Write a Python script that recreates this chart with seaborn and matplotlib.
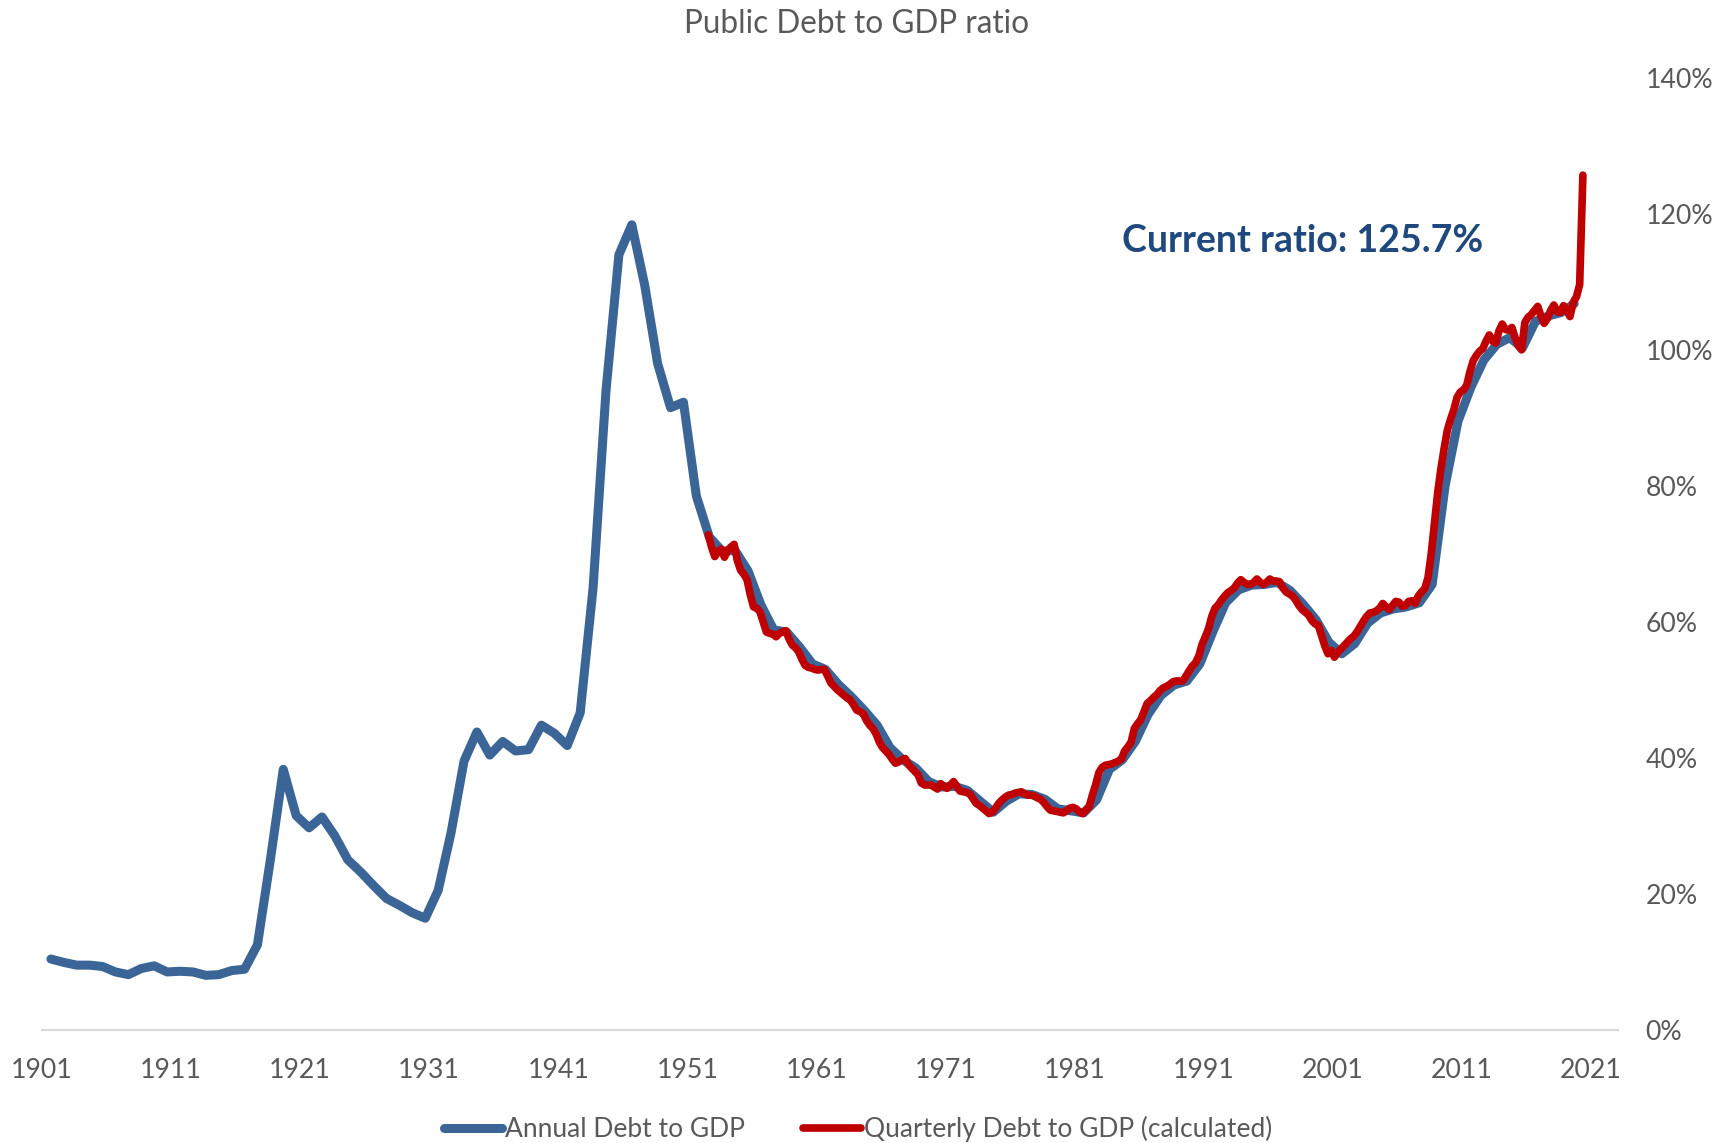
import matplotlib
matplotlib.use('Agg')
import matplotlib.pyplot as plt
from matplotlib.ticker import FuncFormatter
import seaborn as sns
import numpy as np
import pandas as pd

# annual public debt to GDP (%), 1901-2019
annual_years = list(range(1901, 2020))
annual_ratio = [
    10.4, 9.9, 9.5, 9.5, 9.3, 8.5, 8.1, 9.0, 9.4, 8.5,
    8.6, 8.5, 8.0, 8.1, 8.7, 8.9, 12.5, 25.0, 38.3, 31.5,
    29.7, 31.3, 28.5, 25.0, 23.2, 21.2, 19.3, 18.3, 17.2, 16.4,
    20.5, 29.0, 39.5, 43.8, 40.4, 42.4, 41.0, 41.2, 44.8, 43.6,
    41.8, 46.6, 65.0, 94.0, 114.0, 118.4, 109.5, 98.0, 91.5, 92.3,
    78.5, 72.5, 70.4, 70.5, 67.5, 62.5, 58.8, 58.5, 56.3, 53.8,
    53.0, 50.8, 49.0, 47.0, 44.8, 41.5, 39.7, 38.5, 36.5, 35.7,
    35.8, 35.2, 33.6, 32.0, 33.6, 34.7, 34.6, 33.9, 32.5, 32.2,
    31.9, 33.8, 38.3, 39.7, 42.4, 46.4, 49.2, 50.7, 51.3, 53.8,
    58.5, 62.8, 64.7, 65.4, 65.5, 65.8, 64.6, 62.6, 60.3, 57.0,
    55.3, 56.8, 59.8, 61.3, 61.9, 62.2, 62.8, 65.5, 80.0, 89.5,
    94.5, 98.5, 100.8, 101.8, 100.3, 104.2, 105.0, 105.5, 106.8,
]

# quarterly debt to GDP (%), 1952Q3-2020Q2
quarter_first = '1952Q3'
quarter_last = '2020Q2'
quarterly_ratio = [
    72.8, 71.0,
    69.6, 70.3, 70.7, 69.5,   # 1953
    70.5, 71.0, 71.4, 69.0,
    67.6, 67.0, 66.2, 64.0,
    62.2, 62.0, 61.5, 60.0,
    58.5, 58.3, 58.2, 57.8,
    58.3, 58.5, 58.7, 57.5,
    56.6, 56.2, 55.6, 54.5,
    53.6, 53.3, 53.2, 53.0,   # 1960
    52.9, 53.0, 53.0, 52.0,
    51.0, 50.5, 50.0, 49.6,
    49.2, 48.8, 48.5, 47.8,
    47.0, 46.8, 46.5, 45.5,
    44.8, 44.3, 43.5, 42.3,
    41.5, 41.0, 40.5, 39.8,
    39.2, 39.4, 39.7, 39.9,
    39.0, 38.5, 38.0, 37.5,
    36.3, 36.0, 36.0, 36.0,
    35.7, 35.4, 36.2, 35.8,   # 1970
    35.5, 36.0, 36.5, 35.8,
    35.1, 35.0, 34.9, 34.7,
    34.0, 33.3, 33.0, 32.6,
    32.2, 31.8, 32.0, 32.6,
    33.3, 33.8, 34.2, 34.5,
    34.6, 34.8, 34.9, 35.0,
    34.7, 34.5, 34.5, 34.4,
    34.1, 33.9, 33.4, 32.8,
    32.3, 32.2, 32.1, 32.0,
    31.9, 32.2, 32.6, 32.7,   # 1980
    32.5, 32.0, 31.8, 32.3,
    32.8, 34.5, 36.0, 37.8,
    38.6, 38.9, 39.0, 39.1,
    39.3, 39.5, 39.8, 41.0,
    41.6, 42.3, 44.3, 45.0,
    45.6, 46.8, 48.0, 48.4,
    48.9, 49.3, 49.9, 50.3,
    50.5, 50.8, 51.2, 51.3,
    51.3, 51.3, 52.0, 52.8,
    53.5, 54.0, 55.0, 56.7,   # 1990
    57.8, 59.0, 60.8, 62.0,
    62.5, 63.2, 63.8, 64.3,
    64.6, 65.0, 65.7, 66.2,
    65.8, 65.5, 65.5, 65.8,
    66.3, 65.8, 65.5, 65.8,
    66.3, 66.0, 66.0, 65.9,
    65.0, 64.4, 64.1, 63.8,
    63.2, 62.4, 61.8, 61.4,
    61.0, 60.2, 59.7, 59.5,
    58.0, 56.5, 55.3, 55.8,   # 2000
    54.8, 55.5, 56.0, 56.5,
    57.0, 57.5, 57.9, 58.5,
    59.3, 60.1, 60.8, 61.3,
    61.4, 61.6, 62.0, 62.7,
    62.2, 61.8, 62.4, 63.0,
    62.9, 62.3, 62.4, 63.0,
    63.1, 62.7, 63.8, 64.4,
    64.9, 66.5, 70.0, 74.5,
    79.0, 82.5, 85.5, 88.2,
    89.8, 91.2, 93.0, 93.8,   # 2010
    94.1, 94.8, 96.8, 98.4,
    99.2, 99.8, 100.2, 101.3,
    102.2, 101.3, 101.0, 102.8,
    103.8, 103.0, 102.9, 103.3,
    101.8, 100.6, 100.0, 104.0,
    104.8, 105.2, 105.8, 106.4,
    105.0, 103.9, 104.6, 105.8,
    106.6, 105.6, 105.5, 106.5,
    105.8, 104.9, 107.0, 107.8,
    109.6, 125.7,             # 2020
]

x_ticks = list(range(1901, 2022, 10))
y_ticks = list(range(0, 141, 20))

sns.set_theme(style='white')
plt.rcParams['font.family'] = ['Lato', 'DejaVu Sans']

quarters = pd.period_range(quarter_first, quarter_last, freq='Q')
df_a = pd.DataFrame({'year': np.array(annual_years) + 0.7, 'ratio': annual_ratio})
df_q = pd.DataFrame({'year': quarters.year + (quarters.quarter - 1) / 4 + 0.125,
                     'ratio': quarterly_ratio})

grey = '#595959'
fig = plt.figure(figsize=(17.23, 11.43), dpi=100)
ax = fig.add_axes([0.0243, 0.0991, 0.9145, 0.8327])

sns.lineplot(data=df_a, x='year', y='ratio', color='#3A6596', lw=6.5, ax=ax,
             label='Annual Debt to GDP', solid_capstyle='round', solid_joinstyle='round')
sns.lineplot(data=df_q, x='year', y='ratio', color='#C00000', lw=5.5, ax=ax,
             label='Quarterly Debt to GDP (calculated)', solid_capstyle='round',
             solid_joinstyle='round')

ax.set_xlim(1901, 2023.06)
ax.set_ylim(0, 140)
ax.set_xticks(x_ticks)
ax.set_yticks(y_ticks)
ax.yaxis.tick_right()
ax.yaxis.set_major_formatter(FuncFormatter(lambda v, p: f'{v:.0f}%'))
ax.tick_params(axis='x', length=0, pad=20, labelsize=19.2, labelcolor=grey)
ax.tick_params(axis='y', length=0, pad=20, labelsize=19.2, labelcolor=grey)
for lab in ax.get_yticklabels():
    lab.set_ha('left')
ax.set_xlabel('')
ax.set_ylabel('')
for s in ['top', 'left', 'right']:
    ax.spines[s].set_visible(False)
ax.spines['bottom'].set_color('#D9D9D9')
ax.spines['bottom'].set_linewidth(1.5)
ax.grid(False)

fig.text(0.497, 1 - 24 / 1143, 'Public Debt to GDP ratio', ha='center', va='center',
         fontsize=22.7, color=grey)
fig.text(1122 / 1723, 1 - 241 / 1143, 'Current ratio: 125.7%', ha='left', va='center',
         fontsize=27, fontweight='bold', color='#1F497D')

handles, labels = ax.get_legend_handles_labels()
ax.get_legend().remove()
fig.legend(handles, labels, loc='center', bbox_to_anchor=(0.498, 1 - 1129 / 1143),
           ncol=2, frameon=False, fontsize=19, handlelength=2.2, handletextpad=0.1,
           columnspacing=2.2, labelcolor=grey)

fig.savefig('out.png', dpi=100)
